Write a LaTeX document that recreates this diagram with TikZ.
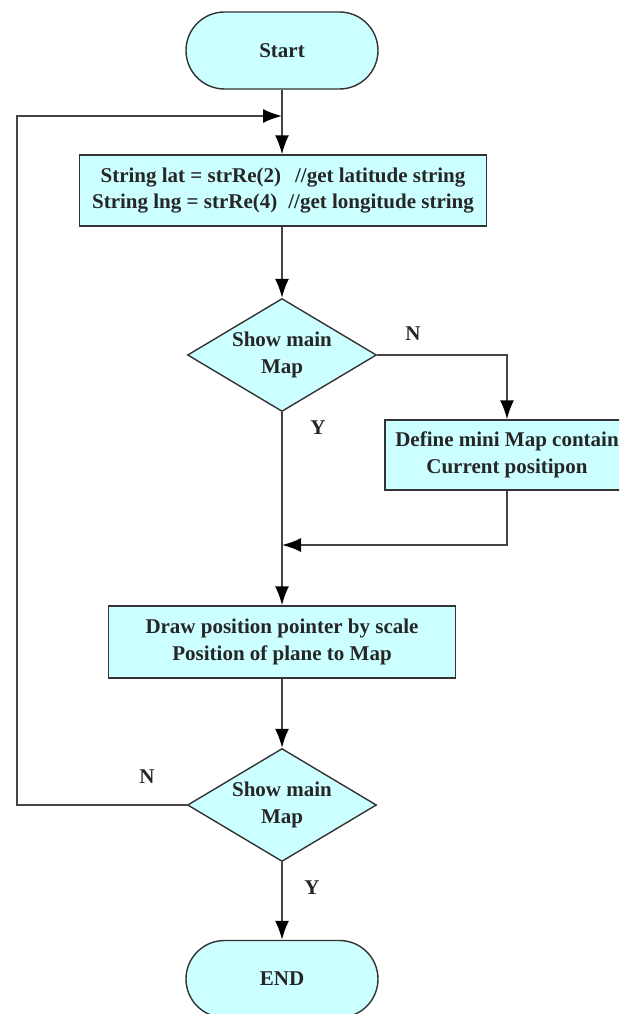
\documentclass[tikz,border=0pt]{standalone}
\usepackage{fontspec}
\setmainfont{Liberation Serif}
\usetikzlibrary{shapes.geometric,arrows.meta}
\definecolor{boxfill}{HTML}{CCFFFF}
\definecolor{boxline}{HTML}{333333}
\definecolor{conline}{HTML}{444444}
\tikzset{
  base/.style={draw=boxline, fill=boxfill, line width=1.4pt, inner sep=0pt,
    font=\fontsize{21pt}{26.5pt}\selectfont\bfseries, align=center, text=black!85},
  terminal/.style={base, rectangle, rounded corners=38.5pt, minimum width=192pt, minimum height=77pt},
  procbox/.style={base, rectangle, minimum height=71pt},
  decision/.style={base, diamond, aspect=1.66, minimum width=189pt, minimum height=113pt},
  lbl/.style={font=\fontsize{21pt}{26pt}\selectfont\bfseries, text=black!85, inner sep=0pt},
  conn/.style={draw=conline, line width=1.8pt},
  arr/.style={conn, -{Latex[length=19pt 0 0,width=14pt 0 0,color=black]}}
}
\begin{document}
\begin{tikzpicture}[x=1pt,y=-1pt]
\useasboundingbox (0,0) rectangle (619,1014);
\clip (0,0) rectangle (619,1014);
\node[terminal] (start) at (282,50.5) {Start};
\node[procbox, minimum width=407pt] (rect1) at (283,190.5)
  {String lat = strRe(2)\hspace{14pt}//get latitude string\\
   String lng = strRe(4)\hspace{11pt}//get longitude string};
\node[decision] (d1) at (282,355) {Show main\\Map};
\node[procbox, minimum width=244pt, minimum height=70pt] (rect2) at (507,455)
  {Define mini Map contain\\Current positipon};
\node[procbox, minimum width=347pt, minimum height=72pt] (rect3) at (282,642)
  {Draw position pointer by scale\\Position of plane to Map};
\node[decision] (d2) at (282,805) {Show main\\Map};
\node[terminal] (end) at (282,979) {END};

\coordinate (lp) at (17,116);
\coordinate (join1) at (282,116);
\coordinate (join2) at (282,545);

\draw[arr] (start.south) -- (start.south |- rect1.north);
\draw[arr] (d2.west) -| (lp) -- (join1);
\draw[arr] (d1.north |- rect1.south) -- (d1.north);
\draw[arr] (d1.east) -| (rect2.north);
\draw[arr] (d1.south) -- (rect3.north);
\draw[arr] (rect2.south) |- (join2);
\draw[arr] (rect3.south) -- (d2.north);
\draw[arr] (d2.south) -- (end.north);

\node[lbl] (n1) at (413,334) {N};
\node[lbl] (y1) at (318,428) {Y};
\node[lbl] (n2) at (147,777) {N};
\node[lbl] (y2) at (312,888) {Y};
\end{tikzpicture}
\end{document}
